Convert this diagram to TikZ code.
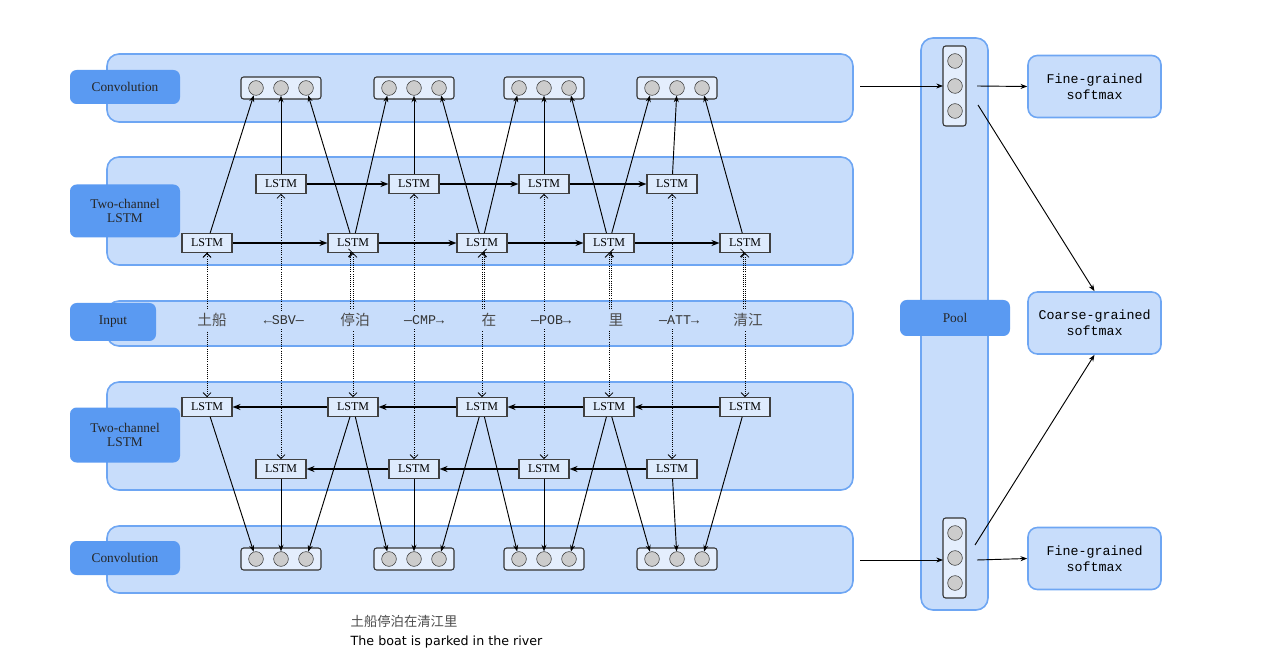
\documentclass[tikz,border=0pt]{standalone}
\usepackage{fontspec}
\setmainfont{Liberation Serif}
\newfontfamily\cjk{Noto Sans CJK SC}
\newfontfamily\mono{Liberation Mono}
\newfontfamily\capsans{DejaVu Sans}
\usetikzlibrary{arrows.meta}
\definecolor{bandfill}{HTML}{C8DDFB}
\definecolor{bandline}{HTML}{6EA6F3}
\definecolor{labfill}{HTML}{5A9AF2}
\tikzset{
 band/.style={draw=bandline,fill=bandfill,line width=1.2pt,rounded corners=9pt},
 lab/.style={fill=labfill,rounded corners=5pt,font=\fontsize{10}{11}\selectfont,align=center,text=black!85},
 lstm/.style={draw=black!75,fill=bandfill!60,line width=0.8pt,minimum width=50pt*0.75,minimum height=14pt,inner sep=1pt,font=\fontsize{9}{10}\selectfont},
 vec/.style={draw=black!80,rounded corners=2pt,line width=0.8pt,fill=bandfill!50},
 circ/.style={draw=black!80,fill=black!20,circle,minimum size=11pt,inner sep=0pt},
 arr/.style={-{Stealth[length=5pt]},line width=0.7pt},
 harr/.style={-{Stealth[length=6pt]},line width=1.4pt},
 darr/.style={-{Straight Barb[length=3pt]},densely dotted,line width=0.6pt},
 word/.style={font=\cjk\fontsize{11}{12}\selectfont,text=black!70},
 rel/.style={font=\mono\fontsize{10}{11}\selectfont,text=black!80},
 soft/.style={draw=bandline,fill=bandfill,line width=1.2pt,rounded corners=7pt,minimum width=133*0.75pt,minimum height=62*0.75pt,align=center,font=\mono\fontsize{10}{12}\selectfont}
}
\begin{document}
\begin{tikzpicture}[x=0.75pt,y=-0.75pt]
\useasboundingbox (0,0) rectangle (1263,666);
% bands
\draw[band] (107,54) rectangle (853,122);
\draw[band] (107,157) rectangle (853,265);
\draw[band] (107,301) rectangle (853,346);
\draw[band] (107,382) rectangle (853,490);
\draw[band] (107,526) rectangle (853,593);
\draw[band] (921,38) rectangle (988,610);
\node[lab,minimum width=110*0.75pt,minimum height=34*0.75pt] (l1) at (125,87) {Convolution};
\node[lab,minimum width=110*0.75pt,minimum height=53*0.75pt] (l2) at (125,211) {Two-channel\\LSTM};
\node[lab,minimum width=86*0.75pt,minimum height=38*0.75pt] (l3) at (113,322) {Input};
\node[lab,minimum width=110*0.75pt,minimum height=55*0.75pt] (l4) at (125,435) {Two-channel\\LSTM};
\node[lab,minimum width=110*0.75pt,minimum height=34*0.75pt] (l5) at (125,558) {Convolution};
\node[lab,minimum width=110*0.75pt,minimum height=36*0.75pt] (pl) at (955,318) {Pool};
% conv vectors
\foreach \i/\x in {1/281,2/414,3/544,4/677}{
 \foreach \yy/\t in {88/t,559/b}{
  \draw[vec] (\x-40,\yy-11) rectangle (\x+40,\yy+11);
  \node[circ] (c\t\i a) at (\x-25,\yy) {};
  \node[circ] (c\t\i b) at (\x,\yy) {};
  \node[circ] (c\t\i c) at (\x+25,\yy) {};
 }}
% pool vectors
\foreach \yy/\t in {86/t,558/b}{
 \draw[vec] (943,\yy-40) rectangle (966,\yy+40);
 \node[circ] (p\t a) at (955,\yy-25) {};
 \node[circ] (p\t b) at (955,\yy) {};
 \node[circ] (p\t c) at (955,\yy+25) {};
}
% LSTMs
\foreach \i/\x in {1/207,2/353,3/482,4/609,5/745}{
 \node[lstm] (A\i) at (\x,243) {LSTM};
 \node[lstm] (C\i) at (\x,407) {LSTM};
}
\foreach \i/\x in {1/281,2/414,3/544,4/672}{
 \node[lstm] (B\i) at (\x,184) {LSTM};
 \node[lstm] (D\i) at (\x,469) {LSTM};
}
% input words
\node[word] (w1) at (212,320) {土船};
\node[rel] (r1) at (284,320) {←SBV—};
\node[word] (w2) at (355,320) {停泊};
\node[rel] (r2) at (424,320) {—CMP→};
\node[word] (w3) at (489,320) {在};
\node[rel] (r3) at (551,320) {—POB→};
\node[word] (w4) at (616,320) {里};
\node[rel] (r4) at (679,320) {—ATT→};
\node[word] (w5) at (748,320) {清江};
% horizontal chains
\foreach \a/\b in {1/2,2/3,3/4,4/5}{
 \draw[harr] (A\a) -- (A\b);
 \draw[harr] (C\b) -- (C\a);
}
\foreach \a/\b in {1/2,2/3,3/4}{
 \draw[harr] (B\a) -- (B\b);
 \draw[harr] (D\b) -- (D\a);
}
% to conv
\foreach \i in {1,2,3,4}{
 \draw[arr] (B\i) -- (ct\i b);
 \draw[arr] (D\i) -- (cb\i b);
}
\draw[arr] (A1) -- (ct1a); \draw[arr] (A2) -- (ct1c); \draw[arr] (A2) -- (ct2a);
\draw[arr] (A3) -- (ct2c); \draw[arr] (A3) -- (ct3a); \draw[arr] (A4) -- (ct3c);
\draw[arr] (A4) -- (ct4a); \draw[arr] (A5) -- (ct4c);
\draw[arr] (C1) -- (cb1a); \draw[arr] (C2) -- (cb1c); \draw[arr] (C2) -- (cb2a);
\draw[arr] (C3) -- (cb2c); \draw[arr] (C3) -- (cb3a); \draw[arr] (C4) -- (cb3c);
\draw[arr] (C4) -- (cb4a); \draw[arr] (C5) -- (cb4c);
% dotted input links
\foreach \i in {1,2,3,4,5}{
 \draw[darr] (w\i.north) ++(-5,0) |- (A\i.south);
}
\foreach \i in {1,2,3,4,5}{
 \draw[darr] (A\i.south|-w\i.south) -- (C\i.north);
 \draw[darr] (A\i.south|-w\i.north) -- (A\i.south);
}
\foreach \i in {1,2,3,4}{
 \draw[darr] (B\i.south|-r\i.north) -- (B\i.south);
 \draw[darr] (B\i.south|-r\i.south) -- (D\i.north);
}
% right side
\coordinate (s1) at (860,86);
\coordinate (s2) at (860,560);
\draw[arr] (s1) -- (943,86);
\draw[arr] (s2) -- (943,560);
\node[soft] (f1) at (1094.5,86.5) {Fine-grained\\softmax};
\node[soft] (co) at (1094.5,323) {Coarse-grained\\softmax};
\node[soft] (f2) at (1094.5,558.5) {Fine-grained\\softmax};
\draw[arr] (977,86) -- (f1.west);
\draw[arr] (977,560) -- (f2.west);
\draw[arr] (978,105) -- (co.north);
\draw[arr] (975,545) -- (co.south);
% caption
\node[font=\cjk\fontsize{10}{11}\selectfont,text=black!70,anchor=west] (cap1) at (346,621) {土船停泊在清江里};
\node[font=\capsans\fontsize{9.5}{11}\selectfont,anchor=west] (cap2) at (346,642) {The boat is parked in the river};
\end{tikzpicture}
\end{document}
